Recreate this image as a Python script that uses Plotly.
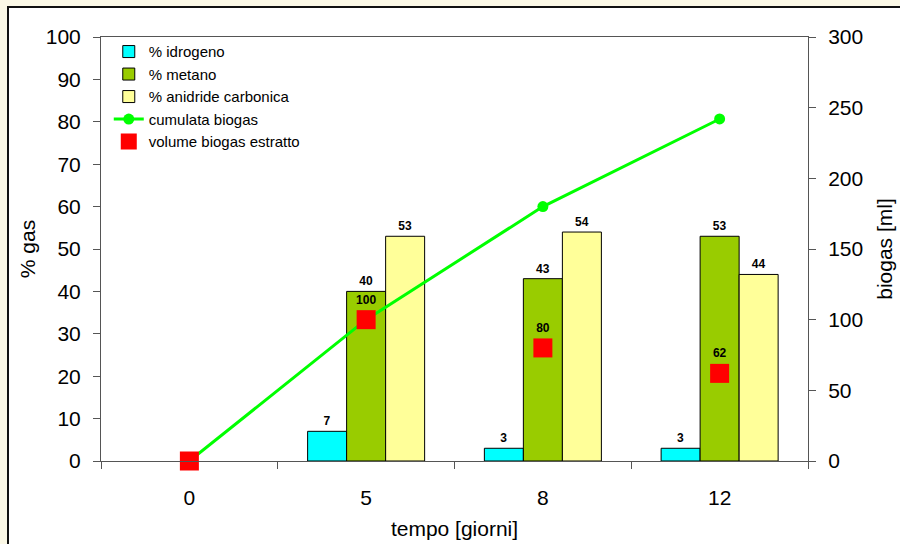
import plotly.graph_objects as go

# Sampling days (categorical x axis)
giorni = ["0", "5", "8", "12"]

# Gas composition, % by volume (left axis)
idrogeno = [None, 7, 3, 3]
metano = [None, 40, 43, 53]
anidride_carbonica = [None, 53, 54, 44]

# Biogas volumes in ml (right axis)
cumulata_biogas = [0, 100, 180, 242]
volume_estratto = [0, 100, 80, 62]

FONT = "Liberation Sans, Arial, sans-serif"

# Plot-area geometry in pixels (used to place the outer frame)
W, H = 900, 544
ML, MR, MT, MB = 101, 92, 37, 83
PW, PH = W - ML - MR, H - MT - MB


def px_x(p):
    return (p - ML) / PW


def px_y(p):
    return (H - MB - p) / PH


fig = go.Figure()

bar_specs = [
    ("% idrogeno", idrogeno, "#00ffff"),
    ("% metano", metano, "#99cc00"),
    ("% anidride carbonica", anidride_carbonica, "#ffff99"),
]
for name, vals, color in bar_specs:
    fig.add_trace(go.Bar(
        x=giorni, y=vals, name=name,
        marker=dict(color=color, line=dict(color="#000000", width=1)),
        text=[("<b>%d</b>" % v) if v is not None else "" for v in vals],
        textposition="outside",
        textfont=dict(family=FONT, size=12, color="#000000"),
        cliponaxis=False,
        yaxis="y",
    ))

fig.add_trace(go.Scatter(
    x=giorni, y=cumulata_biogas, name="cumulata biogas",
    mode="lines+markers",
    line=dict(color="#00ff00", width=3),
    marker=dict(color="#00ff00", size=11, symbol="circle"),
    yaxis="y2", cliponaxis=False,
))

fig.add_trace(go.Scatter(
    x=giorni, y=volume_estratto, name="volume biogas estratto",
    mode="markers+text",
    marker=dict(color="#ff0000", size=19, symbol="square", line=dict(width=0)),
    text=[("<b>%d</b>" % v) if v else "" for v in volume_estratto],
    textposition="top center",
    textfont=dict(family=FONT, size=12, color="#000000"),
    yaxis="y2", cliponaxis=False,
))

axis_line = "#555555"

fig.update_layout(
    width=W, height=H,
    margin=dict(l=ML, r=MR, t=MT, b=MB, pad=0),
    paper_bgcolor="#fbf8e6",
    plot_bgcolor="#ffffff",
    font=dict(family=FONT, color="#000000"),
    barmode="group",
    bargap=0.338,
    bargroupgap=0,
    showlegend=True,
    legend=dict(
        x=0.011, y=1.004, xanchor="left", yanchor="top",
        bgcolor="rgba(0,0,0,0)", borderwidth=0,
        font=dict(family=FONT, size=15, color="#000000"),
    ),
    xaxis=dict(
        type="category", categoryorder="array", categoryarray=giorni,
        showline=True, linecolor=axis_line, linewidth=1, mirror=True,
        ticks="outside", tickson="boundaries", ticklen=7, tickcolor=axis_line,
        tickfont=dict(family=FONT, size=21),
        ticklabelstandoff=18,
        showgrid=False, zeroline=False, automargin=False,
        title=dict(text="tempo [giorni]", font=dict(family=FONT, size=21), standoff=13),
    ),
    yaxis=dict(
        range=[0, 100], dtick=10,
        showline=True, linecolor=axis_line, linewidth=1,
        ticks="outside", ticklen=7, tickcolor=axis_line,
        tickfont=dict(family=FONT, size=21),
        ticklabelstandoff=8,
        showgrid=False, zeroline=False, automargin=False,
        title=dict(text="% gas", font=dict(family=FONT, size=21), standoff=4),
    ),
    yaxis2=dict(
        range=[0, 300], dtick=50, overlaying="y", side="right",
        showline=True, linecolor=axis_line, linewidth=1,
        ticks="outside", ticklen=7, tickcolor=axis_line,
        tickfont=dict(family=FONT, size=21),
        ticklabelstandoff=8,
        showgrid=False, zeroline=False, automargin=False,
        title=dict(text="biogas [ml]", font=dict(family=FONT, size=21), standoff=15),
    ),
)

# White chart area with a black frame
fig.add_shape(
    type="rect", xref="paper", yref="paper", layer="below",
    x0=px_x(8), x1=px_x(910), y0=px_y(560), y1=px_y(7),
    fillcolor="#ffffff", line=dict(color="#111111", width=2),
)

fig.write_html("out.html")
